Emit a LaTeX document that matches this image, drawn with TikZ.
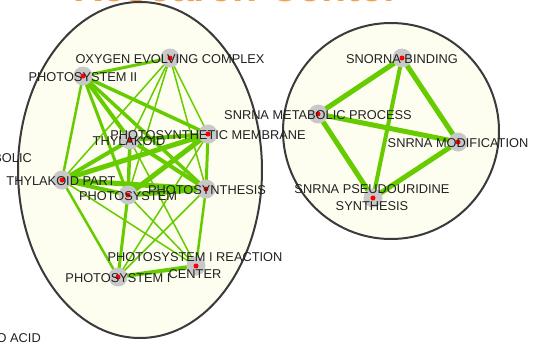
\documentclass[tikz,border=0pt]{standalone}
\usepackage{fontspec}
\setmainfont{Liberation Sans}
\usepackage{xcolor}
\usepackage{tikz}
\definecolor{netgreen}{HTML}{66CC00}
\definecolor{ivory}{HTML}{FDFDF0}
\definecolor{rim}{HTML}{3A3A3A}
\definecolor{halogray}{HTML}{C8C8C8}
\definecolor{titleorange}{HTML}{F5A04E}
\definecolor{labelgray}{HTML}{222222}

\tikzset{
  cluster/.style={fill=ivory, draw=rim, line width=2pt},
  edge/.style={draw=netgreen, line cap=round},
  halo/.style={circle, fill=halogray, minimum size=19pt, inner sep=0pt},
  dotred/.style={circle, fill=red, minimum size=5pt, inner sep=0pt},
  lbl/.style={text=labelgray, inner sep=0pt, align=center,
              font=\fontsize{12.8}{17}\selectfont}
}

\begin{document}
\begin{tikzpicture}[x=1pt, y=-1pt]
    \useasboundingbox (0,0) rectangle (536,343);
    \clip (0,0) rectangle (536,343);
    \fill[white] (0,0) rectangle (536,343);

    % title, only its lower edge is in view
    \node[text=titleorange, anchor=base west, inner sep=0pt,
          font=\fontsize{41}{41}\selectfont\bfseries] (title) at (73,1) {Research Center};

    % the two clusters
    \draw[cluster] (140,170) ellipse [x radius=122, y radius=168];
    \draw[cluster] (391,131) circle [radius=108];

    % cut off labels at the left edge
    \node[lbl, anchor=east] (cutA) at (32,158) {BOLIC};
    \node[lbl, anchor=east] (cutB) at (41,338) {O ACID};

    % term positions
    \coordinate (oec)   at (170,58);
    \coordinate (psii)  at (83,76);
    \coordinate (pm)    at (208,134);
    \coordinate (th)    at (130,140);
    \coordinate (tp)    at (62,180);
    \coordinate (ps)    at (128,195);
    \coordinate (psn)   at (206,189);
    \coordinate (psirc) at (196,266);
    \coordinate (psi)   at (118,277);
    \coordinate (snb)   at (402,58);
    \coordinate (snmp)  at (318,114);
    \coordinate (snmod) at (458,142);
    \coordinate (snps)  at (373,198);

    % links
    \foreach \a/\b/\w in {oec/psii/3, oec/th/1.5, oec/tp/1.5, oec/ps/1.5,
        oec/pm/1.5, oec/psn/1.5, psii/th/4, psii/pm/3.5, psii/ps/3,
        psii/psn/3.5, psii/tp/2.5, th/pm/4, th/tp/4, th/ps/3.5, th/psn/4,
        th/psirc/1.5, pm/tp/5, pm/ps/5, pm/psn/3, pm/psi/1.5, tp/ps/4,
        tp/psn/5, tp/psi/2.5, tp/psirc/1.5, ps/psn/5, ps/psi/3,
        ps/psirc/1.5, psn/psi/1.5, psn/psirc/2.5, psi/psirc/4,
        snb/snmp/5, snb/snmod/5, snb/snps/4, snmp/snmod/5, snmp/snps/5,
        snmod/snps/5}
      \draw[edge, line width=\w pt] (\a) -- (\b);

    % term markers
    \foreach \t in {oec, psii, pm, th, tp, ps, psn, psirc, psi,
        snb, snmp, snmod, snps} {
      \node[halo] (\t-h) at (\t) {};
      \node[dotred] (\t-d) at (\t) {};
    }

    % term labels
    \node[lbl] (oec-l)   at (170,59)  {OXYGEN EVOLVING COMPLEX};
    \node[lbl] (psii-l)  at (83,77)   {PHOTOSYSTEM II};
    \node[lbl] (pm-l)    at (208,135) {PHOTOSYNTHETIC MEMBRANE};
    \node[lbl] (th-l)    at (129,141) {THYLAKOID};
    \node[lbl] (tp-l)    at (61,181)  {THYLAKOID PART};
    \node[lbl] (ps-l)    at (128,196) {PHOTOSYSTEM};
    \node[lbl] (psn-l)   at (207,190) {PHOTOSYNTHESIS};
    \node[lbl] (psirc-l) at (195,266) {PHOTOSYSTEM I REACTION\\CENTER};
    \node[lbl] (psi-l)   at (118,278) {PHOTOSYSTEM I};
    \node[lbl] (snb-l)   at (402,59)  {SNORNA BINDING};
    \node[lbl] (snmp-l)  at (318,115) {SNRNA METABOLIC PROCESS};
    \node[lbl] (snmod-l) at (458,143) {SNRNA MODIFICATION};
    \node[lbl] (snps-l)  at (372,198) {SNRNA PSEUDOURIDINE\\SYNTHESIS};
\end{tikzpicture}
\end{document}
